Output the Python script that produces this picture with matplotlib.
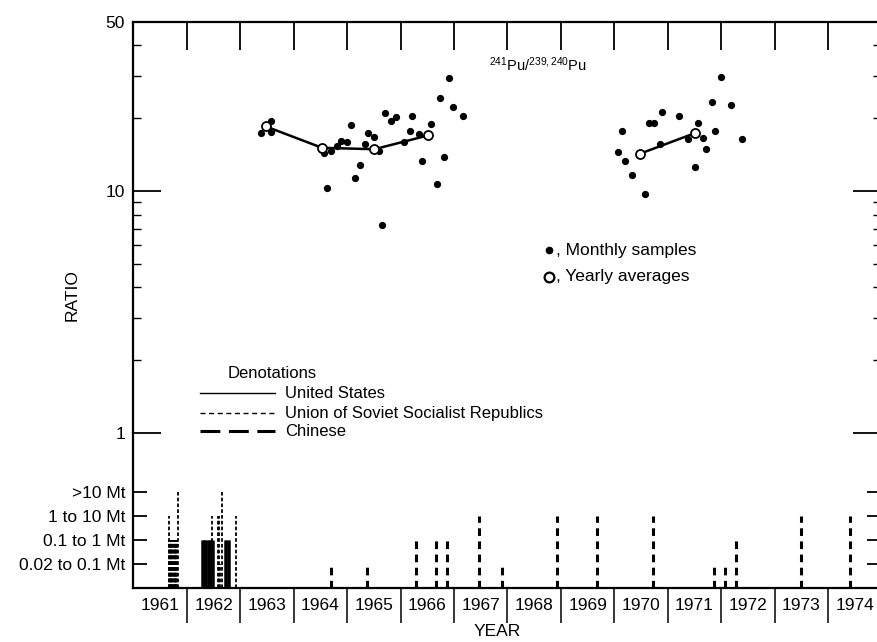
import numpy as np
import matplotlib
matplotlib.use("Agg")
import matplotlib.pyplot as plt
from matplotlib.ticker import FixedLocator, NullFormatter

plt.rcParams['font.family'] = ['Liberation Sans', 'DejaVu Sans']
plt.rcParams['mathtext.fontset'] = 'custom'
plt.rcParams['mathtext.rm'] = 'Liberation Sans'
plt.rcParams['mathtext.it'] = 'Liberation Sans:italic'

# monthly 241Pu/239,240Pu ratios
month_t1 = [1963.39, 1963.57, 1963.57, 1964.56, 1964.69, 1964.81, 1964.88, 1965.00,
            1965.07, 1964.62, 1965.24, 1965.15, 1965.65, 1965.39, 1965.51, 1965.34,
            1965.60, 1965.71, 1965.82, 1965.92, 1966.21, 1966.18, 1966.07, 1966.35,
            1966.57, 1966.41, 1966.68, 1966.82, 1966.74, 1966.99, 1966.91, 1967.17]
month_r1 = [17.4, 19.5, 17.6, 14.4, 14.6, 15.4, 16.1, 15.9,
            18.7, 10.3, 12.8, 11.3, 7.25, 17.4, 16.7, 15.6,
            14.7, 21.1, 19.5, 20.2, 20.4, 17.8, 16.0, 17.3,
            18.9, 13.3, 10.7, 13.8, 24.2, 22.2, 29.3, 20.5]
month_t2 = [1970.07, 1970.21, 1970.33, 1970.57, 1970.15, 1970.65, 1970.74, 1970.90,
            1970.85, 1971.22, 1971.38, 1971.57, 1971.66, 1971.72, 1971.52, 1971.88,
            1971.83, 1972.00, 1972.18, 1972.40]
month_r2 = [14.5, 13.3, 11.7, 9.75, 17.8, 19.2, 19.2, 21.3,
            15.7, 20.5, 16.4, 19.2, 16.5, 14.9, 12.6, 17.8,
            23.3, 29.7, 22.6, 16.4]

# yearly averages
year_t1 = [1963.48, 1964.53, 1965.51, 1966.52]
year_r1 = [18.5, 15.1, 14.9, 17.0]
year_t2 = [1970.49, 1971.52]
year_r2 = [14.3, 17.4]

# atmospheric tests: time and yield class (1 = 0.02-0.1 Mt ... 4 = >10 Mt)
us_t = [1962.28, 1962.30, 1962.32, 1962.34, 1962.36, 1962.40, 1962.42, 1962.44,
        1962.46, 1962.48, 1962.72, 1962.74, 1962.76, 1962.78]
us_lev = [2, 2, 2, 2, 2, 2, 2, 2, 2, 2, 2, 2, 2, 2]
ussr_t = [1961.66, 1961.67, 1961.68, 1961.69, 1961.70, 1961.71, 1961.72, 1961.73,
          1961.74, 1961.75, 1961.76, 1961.77, 1961.78, 1961.79, 1961.80, 1961.81,
          1961.83, 1962.47, 1962.58, 1962.60, 1962.62, 1962.66, 1962.92]
ussr_lev = [2, 3, 2, 2, 2, 2, 2, 2, 2, 2, 2, 2, 2, 2, 2, 2, 4, 3, 3, 3, 1, 4, 3]
cn_t = [1964.69, 1965.38, 1966.28, 1966.67, 1966.86, 1967.46, 1967.89, 1968.92,
        1969.67, 1970.72, 1971.86, 1972.07, 1972.27, 1973.49, 1974.41]
cn_lev = [1, 1, 2, 2, 2, 3, 1, 3, 3, 3, 1, 1, 2, 3, 3]

years = list(range(1961, 1975))
yield_labels = ['0.02 to 0.1 Mt', '0.1 to 1 Mt', '1 to 10 Mt', '>10 Mt']

fig = plt.figure(figsize=(8.77, 6.42), dpi=100)
ax2 = fig.add_axes([0.1522, 0.0841, 0.8528, 0.2414])
ax = fig.add_axes([0.1522, 0.3255, 0.8528, 0.6402])
ax.patch.set_alpha(0)

# ratio panel
ax.plot(year_t1, year_r1, color='k', lw=1.8, zorder=2)
ax.plot(year_t2, year_r2, color='k', lw=1.8, zorder=2)
ax.plot(month_t1, month_r1, 'o', color='k', ms=4.2, zorder=3)
ax.plot(month_t2, month_r2, 'o', color='k', ms=4.2, zorder=3)
ax.plot(year_t1, year_r1, 'o', mfc='white', mec='k', ms=6.5, mew=1.3, zorder=4)
ax.plot(year_t2, year_r2, 'o', mfc='white', mec='k', ms=6.5, mew=1.3, zorder=4)

ax.set_yscale('log')
ax.set_ylim(1, 50)
ax.set_xlim(1961, 1975)
ax.set_yticks([1, 10, 50])
ax.set_yticklabels(['1', '10', '50'])
ax.yaxis.set_minor_locator(FixedLocator([2, 3, 4, 5, 6, 7, 8, 9, 20, 30, 40]))
ax.yaxis.set_minor_formatter(NullFormatter())
ax.tick_params(axis='y', which='major', direction='in', length=20, width=1.3,
               labelsize=12.5, pad=6, right=True)
ax.tick_params(axis='y', which='minor', direction='in', length=6, width=1.0, right=True)
for t in ax.yaxis.get_minor_ticks():
    if abs(t.get_loc() - 5) < 1e-6:
        t.tick1line.set_markersize(13)
ax.xaxis.set_ticks_position('top')
ax.set_xticks(years[1:])
ax.set_xticks([], minor=True)
ax.tick_params(axis='x', which='major', direction='in', length=20, width=1.3,
               labeltop=False, labelbottom=False)
ax.spines['bottom'].set_visible(False)
for s in ['top', 'left', 'right']:
    ax.spines[s].set_linewidth(1.6)

ax.set_ylabel('RATIO', fontsize=12.5)
ax.yaxis.set_label_coords(-0.0715, 0.336)

ax.text(0.541, 0.895, r'$^{241}$Pu/$^{239,240}$Pu', transform=ax.transAxes,
        ha='center', va='center', fontsize=10.5)

# sample legend
ax.plot([0.556], [0.445], 'o', color='k', ms=4.5, transform=ax.transAxes, clip_on=False)
ax.text(0.565, 0.445, ', Monthly samples', transform=ax.transAxes,
        ha='left', va='center', fontsize=12.5)
ax.plot([0.556], [0.380], 'o', mfc='white', mec='k', ms=7, mew=1.6,
        transform=ax.transAxes, clip_on=False)
ax.text(0.565, 0.380, ', Yearly averages', transform=ax.transAxes,
        ha='left', va='center', fontsize=12.5)

# denotations legend
ax.text(0.126, 0.146, 'Denotations', transform=ax.transAxes,
        ha='left', va='center', fontsize=12)
legend_rows = [('United States', '-', 1.0, 0.097),
               ('Union of Soviet Socialist Republics', (0, (3.6, 2.6)), 1.0, 0.0487),
               ('Chinese', (0, (6.5, 2.8)), 2.2, 0.004)]
for name, ls, lw, fy in legend_rows:
    ax.plot([0.089, 0.189], [fy, fy], color='k', ls=ls, lw=lw,
            transform=ax.transAxes, clip_on=False)
    ax.text(0.2026, fy, name, transform=ax.transAxes,
            ha='left', va='center', fontsize=12)

# yield panel
ax2.vlines(us_t, 0, us_lev, colors='k', linestyles='-', lw=1.8)
ax2.vlines(ussr_t, 0, ussr_lev, colors='k', linestyles=[(0, (2.0, 1.2))], lw=1.3)
ax2.vlines(cn_t, 0, cn_lev, colors='k', linestyles=[(0, (2.5, 1.8))], lw=2.2)

ax2.set_xlim(1961, 1975)
ax2.set_ylim(0, 6.43)
ax2.set_yticks([1, 2, 3, 4])
ax2.set_yticklabels(yield_labels)
ax2.tick_params(axis='y', direction='in', length=10, width=1.3, labelsize=12.5,
                pad=6, right=True)
ax2.set_xticks(years[1:])
ax2.set_xticks([y + 0.5 for y in years], minor=True)
ax2.set_xticklabels([str(y) for y in years], minor=True)
ax2.tick_params(axis='x', which='major', direction='out', length=25, width=1.1,
                labelbottom=False)
ax2.tick_params(axis='x', which='minor', length=0, labelsize=12.5, pad=7)
ax2.spines['top'].set_visible(False)
for s in ['bottom', 'left', 'right']:
    ax2.spines[s].set_linewidth(1.6)
ax2.set_xlabel('YEAR', fontsize=12.5)
ax2.xaxis.set_label_coords(0.487, -0.235)

fig.savefig('out.png', dpi=100)
